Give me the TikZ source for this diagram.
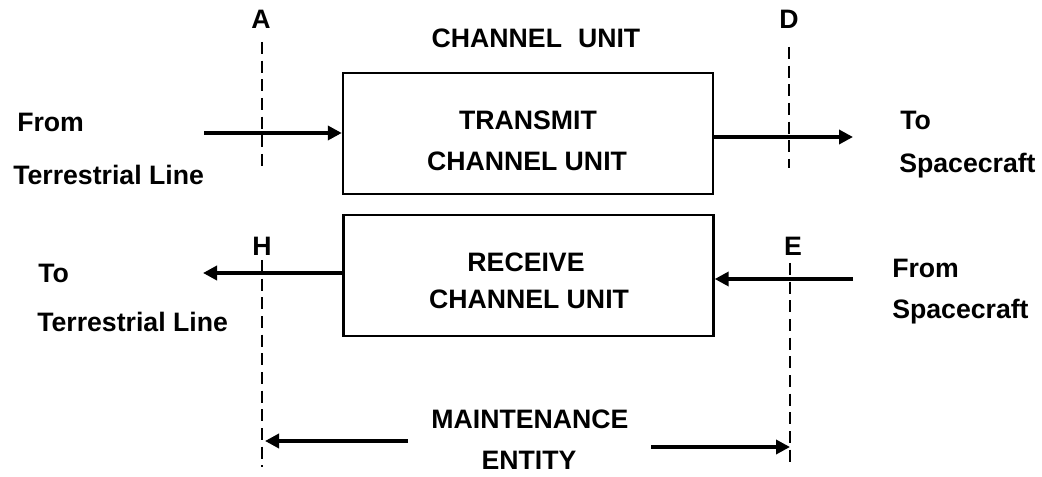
\documentclass[tikz,border=0pt]{standalone}
\usepackage{fontspec}
\setmainfont{Liberation Sans}
\usetikzlibrary{arrows.meta}
\begin{document}
\begin{tikzpicture}[x=0.75pt,y=-0.75pt,
  txt/.style={inner sep=0pt,font=\fontsize{20pt}{24pt}\selectfont\bfseries},
  unitbox/.style={draw,line width=1.8pt,minimum width=277.5pt,minimum height=90.75pt,inner sep=0pt},
  arr/.style={line width=2.6pt,-{Triangle[length=10.5pt,width=10.5pt]}},
  dashline/.style={line width=0.8pt,dash pattern=on 9pt off 5pt}]
\useasboundingbox (0,0) rectangle (1042,477);
% boxes
\node[unitbox] (tx) at (528,133.5) {};
\node[unitbox] (rx) at (528.5,275.5) {};
% box texts
\node[txt,anchor=base] (t1) at (528,130) {TRANSMIT};
\node[txt,anchor=base] (t2) at (527,171) {CHANNEL UNIT};
\node[txt,anchor=base] (r1) at (526,272) {RECEIVE};
\node[txt,anchor=base] (r2) at (529,309) {CHANNEL UNIT};
\node[txt,anchor=base] (cu) at (536,48) {CHANNEL\hspace{0.6em}UNIT};
% reference point labels
\node[txt,anchor=base] (A) at (261,29) {A};
\node[txt,anchor=base] (D) at (789,29) {D};
\node[txt,anchor=base] (H) at (262,256) {H};
\node[txt,anchor=base] (E) at (793,256) {E};
% side texts
\node[txt,anchor=base west] (f1) at (17,132) {From};
\node[txt,anchor=base west] (f2) at (13,185) {Terrestrial Line};
\node[txt,anchor=base west] (o1) at (38,282) {To};
\node[txt,anchor=base west] (o2) at (37,331) {Terrestrial Line};
\node[txt,anchor=base west] (s1) at (900,130) {To};
\node[txt,anchor=base west] (s2) at (899,173) {Spacecraft};
\node[txt,anchor=base west] (s3) at (892,277) {From};
\node[txt,anchor=base west] (s4) at (892,319) {Spacecraft};
\node[txt,anchor=base] (m1) at (530,428) {MAINTENANCE};
\node[txt,anchor=base] (m2) at (529,469) {ENTITY};
% dashed reference lines
\coordinate (a1) at (262,42);  \coordinate (a2) at (262,166);
\coordinate (h1) at (262,260); \coordinate (h2) at (262,467);
\coordinate (d1) at (789,47);  \coordinate (d2) at (789,168);
\coordinate (e1) at (790,263); \coordinate (e2) at (790,467);
\draw[dashline] (a1) -- (a2);
\draw[dashline] (h1) -- (h2);
\draw[dashline] (d1) -- (d2);
\draw[dashline] (e1) -- (e2);
% signal arrows
\coordinate (inL) at (204,133);
\coordinate (outR) at (853,137);
\coordinate (outL) at (203,273);
\coordinate (inR) at (853,279);
\draw[arr] (inL) -- (inL -| tx.west);
\draw[arr] (outR -| tx.east) -- (outR);
\draw[arr] (outL -| rx.west) -- (outL);
\draw[arr] (inR) -- (inR -| rx.east);
% maintenance entity arrows
\coordinate (mL1) at (408,441); \coordinate (mL2) at (265,441);
\coordinate (mR1) at (651,447); \coordinate (mR2) at (790,447);
\draw[arr] (mL1) -- (mL2);
\draw[arr] (mR1) -- (mR2);
\end{tikzpicture}
\end{document}
